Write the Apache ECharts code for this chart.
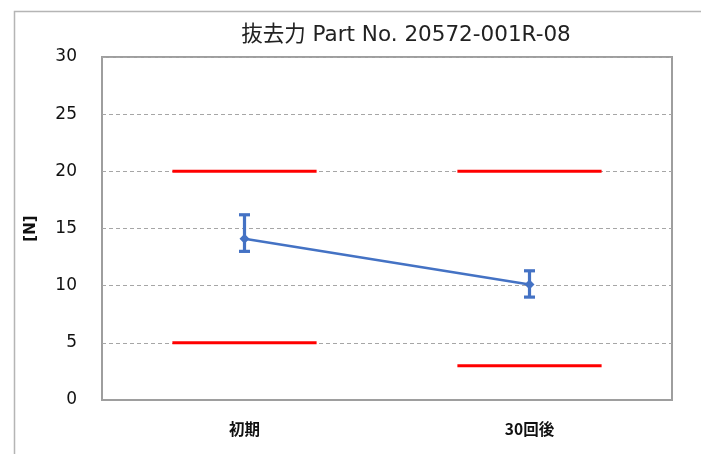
<!DOCTYPE html>
<html>
<head>
<meta charset="utf-8">
<title>抜去力 Part No. 20572-001R-08</title>
<script src="https://cdn.jsdelivr.net/npm/echarts@6/dist/echarts.min.js"></script>
<style>
  html, body { margin: 0; padding: 0; background: #fff; }
  #main { width: 701px; height: 454px; }
</style>
</head>
<body>
<div id="main"></div>
<script>
// データ
var categories = ['初期', '30回後'];
var meanValues = [14.1, 10.1];   // 平均
var maxValues = [16.2, 11.3];    // 最大
var minValues = [13.0, 9.0];     // 最小
var upperLimit = [20, 20];       // 上限規格
var lowerLimit = [5, 3];         // 下限規格

var blue = '#4472C4';

// 規格線（カテゴリ幅の半分の横線）
function limitItem(params, api) {
    var p = api.coord([api.value(0), api.value(1)]);
    var half = api.size([1, 0])[0] * 0.253;
    return {
        type: 'line',
        shape: { x1: p[0] - half, y1: p[1], x2: p[0] + half, y2: p[1] },
        style: { stroke: '#FF0000', lineWidth: 3 }
    };
}

// エラーバー
function errorItem(params, api) {
    var top = api.coord([api.value(0), api.value(1)]);
    var bot = api.coord([api.value(0), api.value(2)]);
    var cap = 5.5;
    var st = { stroke: blue, lineWidth: 3.2 };
    return {
        type: 'group',
        children: [
            { type: 'line', shape: { x1: top[0], y1: top[1], x2: bot[0], y2: bot[1] }, style: st },
            { type: 'line', shape: { x1: top[0] - cap, y1: top[1], x2: top[0] + cap, y2: top[1] }, style: st },
            { type: 'line', shape: { x1: bot[0] - cap, y1: bot[1], x2: bot[0] + cap, y2: bot[1] }, style: st }
        ]
    };
}

var errData = [];
var upData = [];
var lowData = [];
for (var i = 0; i < categories.length; i++) {
    errData.push([i, maxValues[i], minValues[i]]);
    upData.push([i, upperLimit[i]]);
    lowData.push([i, lowerLimit[i]]);
}

var myChart = echarts.init(document.getElementById('main'));
myChart.setOption({
    animation: false,
    textStyle: { fontFamily: 'DejaVu Sans' },
    graphic: [{
        type: 'rect',
        left: 12, top: 9,
        shape: { width: 900, height: 600 },
        style: { fill: 'none', stroke: '#b5b5b5', lineWidth: 1.5 },
        silent: true
    }],
    title: {
        text: '抜去力 Part No. 20572-001R-08',
        left: 401,
        textAlign: 'center',
        top: 20,
        textStyle: { fontFamily: 'DejaVu Sans, Noto Sans CJK JP', fontSize: 21.5, fontWeight: 'normal', color: '#222' }
    },
    grid: {
        left: 102, right: 29, top: 57, bottom: 54,
        show: true, borderColor: '#9e9e9e', borderWidth: 2
    },
    xAxis: {
        type: 'category',
        data: categories,
        boundaryGap: true,
        axisLine: { show: true, lineStyle: { color: '#9e9e9e', width: 2 } },
        axisTick: { show: false },
        axisLabel: {
            margin: 21,
            fontFamily: 'Noto Sans CJK JP', fontSize: 15.5, fontWeight: 'bold', color: '#111'
        }
    },
    yAxis: {
        type: 'value',
        min: 0, max: 30, interval: 5,
        name: '[N]',
        nameLocation: 'middle',
        nameGap: 63,
        nameTextStyle: { fontFamily: 'DejaVu Sans', fontSize: 15, fontWeight: 'bold', color: '#111' },
        axisLine: { show: false },
        axisTick: { show: false },
        axisLabel: { margin: 25, fontSize: 17, color: '#111' },
        splitLine: { lineStyle: { color: '#a6a6a6', type: [4, 3], width: 1 } }
    },
    series: [
        { type: 'custom', renderItem: limitItem, data: upData, z: 3 },
        { type: 'custom', renderItem: limitItem, data: lowData, z: 3 },
        { type: 'custom', renderItem: errorItem, data: errData, z: 4 },
        {
            type: 'line',
            data: meanValues,
            symbol: 'diamond',
            symbolSize: 10,
            itemStyle: { color: blue },
            lineStyle: { color: blue, width: 2.5 },
            z: 5
        }
    ]
});
</script>
</body>
</html>
